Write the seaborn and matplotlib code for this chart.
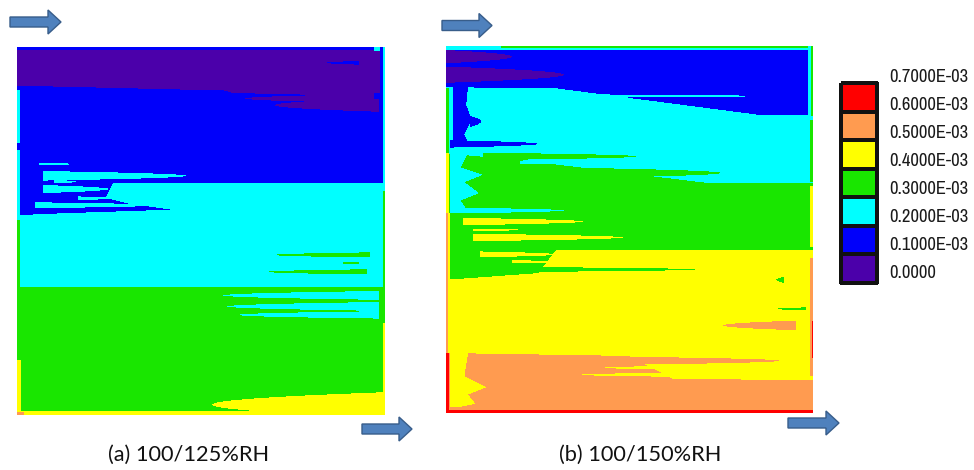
import numpy as np
import pandas as pd
import matplotlib
matplotlib.use("Agg")
import matplotlib.pyplot as plt
from matplotlib.colors import ListedColormap
from matplotlib.patches import FancyArrow
from matplotlib.path import Path
import seaborn as sns

sns.set_theme(style="white")
plt.rcParams["font.family"] = ["Lato", "DejaVu Sans"]

# ------------------------------------------------------------------ data
LEVEL_EDGES = [0.0, 0.1e-3, 0.2e-3, 0.3e-3, 0.4e-3, 0.5e-3, 0.6e-3, 0.7e-3]
LEVEL_LABELS = ["0.7000E-03", "0.6000E-03", "0.5000E-03", "0.4000E-03",
                "0.3000E-03", "0.2000E-03", "0.1000E-03", "0.0000"]
BAND_COLORS = ["#4B00AA", "#0000FA", "#00FFFF", "#19E600",
               "#FFFF00", "#FF9B50", "#FF0000"]   # level 0 .. 6
CAPTIONS = ["(a) 100/125%RH", "(b) 100/150%RH"]

# panel (a): bands top->bottom, boundaries (x stations, y from top, 0..1)
A_LEVELS = [0, 1, 2, 3]
A_BOUND_X = [[0.0, 0.55, 1.0], [0.0, 1.0], [0.0, 1.0]]
A_BOUND_Y = [[0.105, 0.118, 0.125], [0.37, 0.37], [0.652, 0.652]]
A_LOBES = [
    ([(0.0, 0.37), (0.26, 0.37), (0.24, 0.41), (0.30, 0.425), (0.42, 0.442),
      (0.12, 0.452), (0.0, 0.457)], 1),
]
# fingers: (y centre, x base, x tip, half width at base, level)
A_FINGERS = [
    (0.122, 0.97, 0.57, 0.010, 0), (0.140, 0.97, 0.62, 0.012, 0),
    (0.158, 0.985, 0.70, 0.018, 0),
    (0.043, 0.93, 0.84, 0.005, 1),
    (0.318, 0.06, 0.15, 0.004, 2), (0.350, 0.07, 0.46, 0.013, 2),
    (0.366, 0.10, 0.16, 0.005, 2), (0.386, 0.07, 0.25, 0.011, 2),
    (0.411, 0.165, 0.27, 0.005, 2), (0.430, 0.05, 0.38, 0.008, 2),
    (0.565, 0.96, 0.70, 0.007, 3), (0.587, 0.93, 0.88, 0.004, 3),
    (0.611, 0.95, 0.68, 0.007, 3),
    (0.675, 0.985, 0.56, 0.012, 2), (0.705, 0.985, 0.57, 0.012, 2),
    (0.728, 0.985, 0.60, 0.010, 2),
    (0.972, 1.0, 0.53, 0.034, 4),
]
# borders: (side, start, end, depth, level)
A_BORDER = [
    ("top", 0.0, 1.0, 0.009, 1), ("top", 0.97, 1.0, 0.012, 2),
    ("right", 0.0, 0.18, 0.014, 1), ("right", 0.0, 0.37, 0.006, 2),
    ("right", 0.39, 0.735, 0.005, 3), ("right", 0.75, 0.95, 0.006, 4),
    ("left", 0.117, 0.26, 0.008, 2), ("left", 0.28, 0.462, 0.008, 2),
    ("left", 0.47, 0.652, 0.008, 3), ("left", 0.85, 1.0, 0.010, 4),
    ("bottom", 0.0, 1.0, 0.012, 4), ("bottom", 0.0, 0.02, 0.008, 5),
]

# panel (b)
B_LEVELS = [1, 2, 3, 4, 5]
B_BOUND_X = [[0.0, 0.3, 0.86, 1.0], [0.0, 0.2, 0.72, 1.0],
             [0.0, 1.0], [0.0, 0.5, 0.62, 1.0]]
B_BOUND_Y = [[0.112, 0.115, 0.188, 0.188], [0.292, 0.31, 0.373, 0.373],
             [0.556, 0.556], [0.837, 0.845, 0.908, 0.91]]
B_LOBES = [
    ([(0.02, 0.11), (0.06, 0.11), (0.055, 0.16), (0.07, 0.20), (0.05, 0.24),
      (0.06, 0.262), (0.02, 0.27)], 1),
    ([(0.01, 0.29), (0.06, 0.29), (0.04, 0.33), (0.10, 0.35), (0.05, 0.37),
      (0.09, 0.40), (0.04, 0.42), (0.06, 0.45), (0.01, 0.455)], 2),
    ([(0.0, 0.556), (0.30, 0.556), (0.25, 0.62), (0.0, 0.638)], 3),
    ([(0.01, 0.837), (0.06, 0.837), (0.05, 0.90), (0.11, 0.93), (0.06, 0.95),
      (0.08, 0.975), (0.03, 0.985), (0.01, 0.985)], 4),
]
B_FINGERS = [
    (0.029, 0.0, 0.18, 0.018, 0), (0.078, 0.0, 0.32, 0.022, 0),
    (0.136, 0.28, 0.85, 0.005, 2), (0.163, 0.26, 0.58, 0.006, 2),
    (0.266, 0.012, 0.25, 0.010, 1), (0.205, 0.065, 0.095, 0.015, 1),
    (0.300, 0.10, 0.52, 0.010, 3), (0.345, 0.30, 0.75, 0.015, 3),
    (0.316, 0.20, 0.47, 0.004, 2), (0.447, 0.01, 0.32, 0.008, 2),
    (0.610, 0.0, 0.68, 0.008, 3),
    (0.477, 0.046, 0.373, 0.010, 4), (0.501, 0.074, 0.23, 0.005, 4),
    (0.523, 0.074, 0.482, 0.010, 4), (0.569, 0.093, 0.30, 0.008, 4),
    (0.589, 0.18, 0.36, 0.004, 4),
    (0.762, 0.955, 0.755, 0.013, 5), (0.717, 0.98, 0.90, 0.004, 3),
    (0.638, 0.92, 0.90, 0.008, 3),
    (0.858, 0.40, 0.91, 0.012, 5),
    (0.877, 0.90, 0.43, 0.008, 4), (0.896, 0.90, 0.365, 0.008, 4),
]
B_BORDER = [
    ("top", 0.0, 1.0, 0.010, 2), ("top", 0.15, 1.0, 0.005, 3),
    ("right", 0.0, 0.19, 0.013, 2), ("right", 0.0, 0.19, 0.006, 3),
    ("right", 0.20, 0.37, 0.007, 3), ("right", 0.38, 0.55, 0.007, 4),
    ("right", 0.58, 0.90, 0.007, 5), ("right", 0.75, 0.85, 0.004, 6),
    ("left", 0.115, 0.29, 0.008, 3), ("left", 0.29, 0.455, 0.008, 4),
    ("left", 0.455, 0.837, 0.012, 4), ("left", 0.455, 0.837, 0.006, 5),
    ("left", 0.837, 1.0, 0.008, 6),
    ("bottom", 0.0, 1.0, 0.009, 6),
]

# ------------------------------------------------------------ build field
MID = [(LEVEL_EDGES[i] + LEVEL_EDGES[i + 1]) / 2 for i in range(7)]
N = 368
xs = (np.arange(N) + 0.5) / N
X, Y = np.meshgrid(xs, xs)
PTS = np.column_stack([X.ravel(), Y.ravel()])


def build_field(levels, bx, by, lobes, fingers, border):
    V = np.full(X.shape, MID[levels[0]])
    for sx, sy, lev in zip(bx, by, levels[1:]):
        yb = np.interp(xs, sx, sy)
        V[Y > yb[None, :]] = MID[lev]
    for verts, lev in lobes:
        m = Path(verts + [verts[0]]).contains_points(PTS).reshape(X.shape)
        V[m] = MID[lev]
    for yc, xb, xt, hw, lev in fingers:
        t = (X - xb) / (xt - xb)
        tc = np.clip(t, 0, 1)
        m = (t >= 0) & (t <= 1) & (np.abs(Y - yc) <= hw * np.sqrt(1 - tc))
        V[m] = MID[lev]
    for side, s, e, d, lev in border:
        if side == "top":
            m = (Y <= d) & (X >= s) & (X <= e)
        elif side == "bottom":
            m = (Y >= 1 - d) & (X >= s) & (X <= e)
        elif side == "left":
            m = (X <= d) & (Y >= s) & (Y <= e)
        else:
            m = (X >= 1 - d) & (Y >= s) & (Y <= e)
        V[m] = MID[lev]
    return pd.DataFrame(V)


field_a = build_field(A_LEVELS, A_BOUND_X, A_BOUND_Y, A_LOBES, A_FINGERS, A_BORDER)
field_b = build_field(B_LEVELS, B_BOUND_X, B_BOUND_Y, B_LOBES, B_FINGERS, B_BORDER)

# ------------------------------------------------------------------- plot
W, H = 974, 470
fig = plt.figure(figsize=(W / 100, H / 100), dpi=100)
cmap = ListedColormap(BAND_COLORS)


def px_axes(x0, y0, x1, y1):
    return fig.add_axes([x0 / W, 1 - y1 / H, (x1 - x0) / W, (y1 - y0) / H])


for field, box in [(field_a, (17, 47, 385, 415)), (field_b, (446, 46, 813, 413))]:
    ax = px_axes(*box)
    sns.heatmap(field, ax=ax, cmap=cmap, vmin=LEVEL_EDGES[0], vmax=LEVEL_EDGES[-1],
                cbar=False, xticklabels=False, yticklabels=False)
    ax.set_xlabel("")
    ax.set_ylabel("")
    for sp in ax.spines.values():
        sp.set_visible(False)

# legend
axl = px_axes(841, 83, 877, 283)
leg = pd.DataFrame({"v": MID[::-1]})
sns.heatmap(leg, ax=axl, cmap=cmap, vmin=LEVEL_EDGES[0], vmax=LEVEL_EDGES[-1],
            cbar=False, xticklabels=False, yticklabels=False,
            linewidths=1.6, linecolor="#111111")
axl.collections[0].set_clip_on(False)
axl.set_xlabel("")
axl.set_ylabel("")
narrow = ["Liberation Sans Narrow", "Arial Narrow", "Archivo Narrow", "PT Sans Narrow",
          "Roboto Condensed", "Open Sans Condensed", "Liberation Sans", "DejaVu Sans"]
labels = []
for i, lab in enumerate(LEVEL_LABELS):
    labels.append(axl.text(1.333, i * 0.98 - 0.2, lab, ha="left", va="center",
                           fontsize=13.7, color="#1a1a1a", family=narrow))
# shrink labels so the longest one spans about 78 px, like the reference
renderer = fig.canvas.get_renderer()
wmax = max(t.get_window_extent(renderer).width for t in labels)
if wmax > 80:
    for t in labels:
        t.set_fontsize(13.7 * 79 / wmax)

# overlay: arrows and captions
ov = fig.add_axes([0, 0, 1, 1], zorder=10)
ov.set_xlim(0, W)
ov.set_ylim(H, 0)
ov.set_axis_off()
ov.patch.set_alpha(0)
for x0, yc, ln in [(10, 22, 51), (362, 429, 50), (442, 25.5, 50), (788, 423, 51)]:
    ov.add_patch(FancyArrow(x0, yc, ln, 0, width=10, head_width=24, head_length=13,
                            length_includes_head=True, fc="#4F81BD", ec="#385D8A", lw=1))
for cx, lab in zip([189, 640], CAPTIONS):
    ov.text(cx, 455, lab, ha="center", va="center", fontsize=15.7, color="#111111")

fig.savefig("out.png", dpi=100)
